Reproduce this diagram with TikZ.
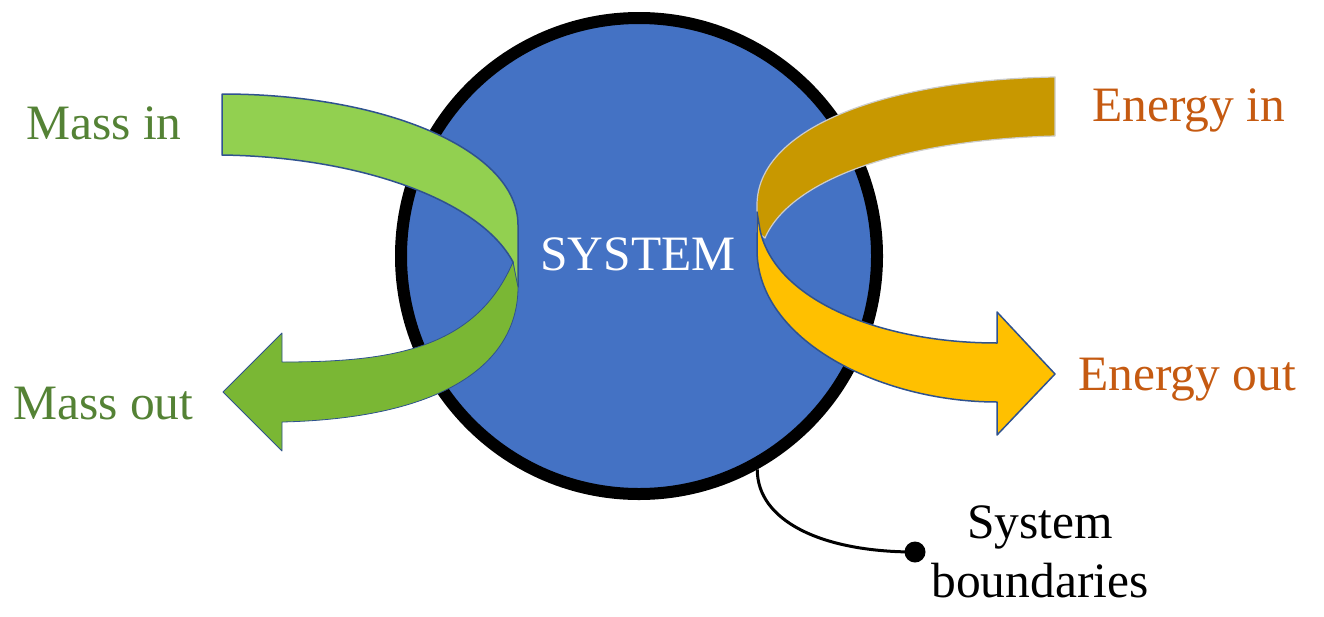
\documentclass[tikz,border=0pt]{standalone}
\usepackage{fontspec}
\setmainfont{Liberation Serif}
\definecolor{sysblue}{HTML}{4472C4}
\definecolor{edgeblue}{HTML}{2F528F}
\definecolor{lightgreen}{HTML}{92D050}
\definecolor{darkgreen}{HTML}{7AB734}
\definecolor{gold}{HTML}{C89800}
\definecolor{amber}{HTML}{FFC000}
\definecolor{masstext}{HTML}{548235}
\definecolor{energytext}{HTML}{C55A11}
\begin{document}
\begin{tikzpicture}[x=1pt,y=-1pt,
  label/.style={font=\fontsize{49.5}{59}\selectfont, inner sep=0pt, anchor=base west},
  band/.style={draw=edgeblue, line width=1.5pt, line join=round},
  goldband/.style={draw=white!80!black, line width=1.2pt, fill=gold, line join=round}]
\useasboundingbox (0,0) rectangle (1324,616);

% the system with its boundary
\node[circle, draw=black, line width=12pt, fill=sysblue, minimum size=476pt, inner sep=0pt] (sys) at (639,256) {};
\node[font=\fontsize{49.5}{59}\selectfont, text=white, inner sep=0pt, anchor=base] (systxt) at (638,270) {SYSTEM};

% mass flow: incoming band (behind)
\fill[lightgreen, band] (222,94) .. controls (385,94) and (518,150) .. (518,225)
  -- (518,287) -- (515,287) -- (513,262)
  .. controls (480,200) and (360,157) .. (222,155) -- cycle;
% mass flow: outgoing arrow (front)
\fill[darkgreen, draw=edgeblue, line width=0.8pt, line join=round]
  (513,262) -- (518,287) .. controls (518,360) and (450,418) .. (282,422)
  -- (282,451) -- (223,392) -- (282,333) -- (282,362)
  .. controls (390,362) and (475,350) .. (513,262) -- cycle;

% energy flow: incoming band (behind)
\fill[goldband] (1055,77) .. controls (880,80) and (757,130) .. (757,205)
  -- (757,232) -- (765,238)
  .. controls (790,180) and (900,140) .. (1055,136) -- cycle;
% energy flow: outgoing arrow (front)
\fill[amber, band] (757,212) -- (757,250) .. controls (757,340) and (880,402) .. (997,402)
  -- (997,435) -- (1055,374) -- (997,312) -- (997,343)
  .. controls (880,343) and (775,300) .. (760,230) -- cycle;

% labels
\node[label, text=masstext] (massin) at (26,139) {Mass in};
\node[label, text=masstext] (massout) at (13,419) {Mass out};
\node[label, text=energytext] (energyin) at (1092,121) {Energy in};
\node[label, text=energytext] (energyout) at (1078,390) {Energy out};

% callout for the boundary
\node[font=\fontsize{49.5}{59}\selectfont, inner sep=0pt, anchor=base, align=center] (bndtxt) at (1040,538) {System};
\node[font=\fontsize{49.5}{59}\selectfont, inner sep=0pt, anchor=base] (bndtxt2) at (1040,597) {boundaries};
\coordinate (bndpt) at (sys.-61);
\node[circle, fill=black, minimum size=21pt, inner sep=0pt] (dot) at (915,552) {};
\draw[line width=3pt] (bndpt) .. controls (757,520) and (820,552) .. (dot.center);
\end{tikzpicture}
\end{document}
